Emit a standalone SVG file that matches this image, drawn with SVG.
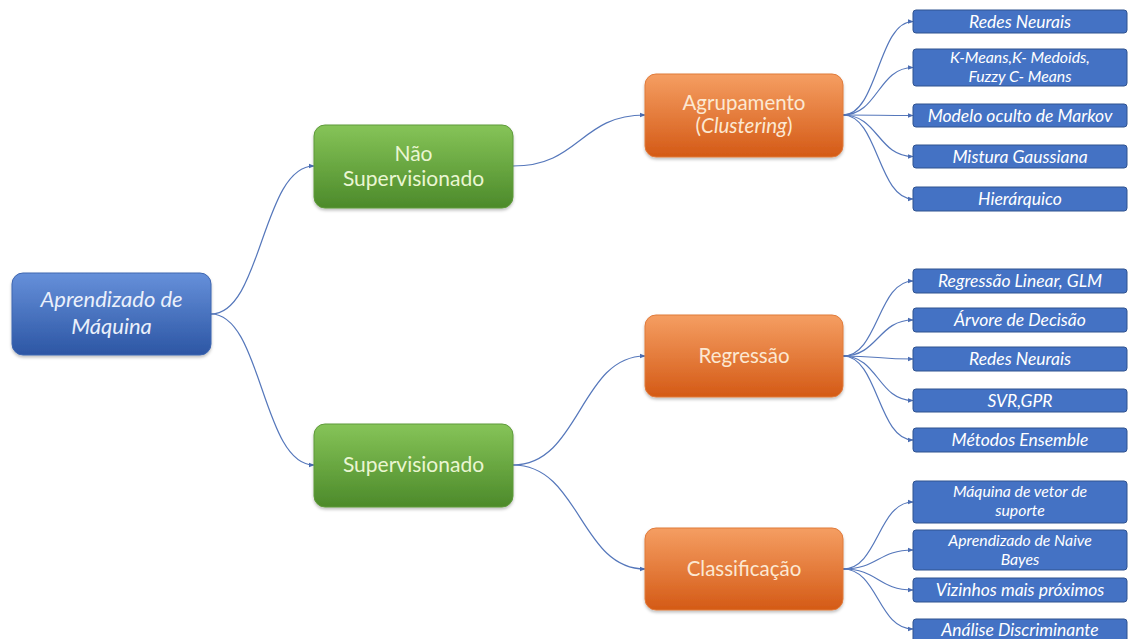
<svg xmlns="http://www.w3.org/2000/svg" width="1128" height="639" viewBox="0 0 1128 639">
  <defs>
    <linearGradient id="gBlue" x1="0" y1="0" x2="0" y2="1">
      <stop offset="0" stop-color="#6690DA"/>
      <stop offset="1" stop-color="#2C56A4"/>
    </linearGradient>
    <linearGradient id="gGreen" x1="0" y1="0" x2="0" y2="1">
      <stop offset="0" stop-color="#86C458"/>
      <stop offset="1" stop-color="#4C8A2A"/>
    </linearGradient>
    <linearGradient id="gOrange" x1="0" y1="0" x2="0" y2="1">
      <stop offset="0" stop-color="#F59E62"/>
      <stop offset="1" stop-color="#D45A16"/>
    </linearGradient>
    <filter id="shadow" x="-10%" y="-10%" width="120%" height="130%">
      <feDropShadow dx="0" dy="2" stdDeviation="1.5" flood-color="#000" flood-opacity="0.25"/>
    </filter>
    <marker id="arrow" viewBox="0 0 10 10" refX="9" refY="5" markerWidth="6" markerHeight="6" orient="auto" markerUnits="userSpaceOnUse">
      <path d="M0,1 L10,5 L0,9 z" fill="#4A6DB3"/>
    </marker>
  </defs>
  <style>
    .bg { fill: #ffffff; }
    .edge { fill: none; stroke: #5577BB; stroke-width: 1.2; marker-end: url(#arrow); }
    .root { fill: url(#gBlue); stroke: #3E66B0; stroke-width: 1; filter: url(#shadow); }
    .green { fill: url(#gGreen); stroke: #5E9A3A; stroke-width: 1; filter: url(#shadow); }
    .orange { fill: url(#gOrange); stroke: #E07A3A; stroke-width: 1; filter: url(#shadow); }
    .leaf { fill: #4472C4; stroke: #2F528F; stroke-width: 1; }
    .tRoot { font-family: Lato, "Liberation Sans", sans-serif; font-style: italic; font-size: 22px; fill: #EAF0FB; text-anchor: middle; }
    .tGreen { font-family: Lato, "Liberation Sans", sans-serif; font-size: 21px; fill: #EAF6D2; text-anchor: middle; }
    .tOrange { font-family: Lato, "Liberation Sans", sans-serif; font-size: 20.5px; fill: #FCE8D2; text-anchor: middle; }
    .tLeaf { font-family: Lato, "Liberation Sans", sans-serif; font-style: italic; font-size: 17.5px; fill: #ffffff; text-anchor: middle; }
    .tLeaf2 { font-family: Lato, "Liberation Sans", sans-serif; font-style: italic; font-size: 15.8px; fill: #ffffff; text-anchor: middle; }
  </style>

  <rect class="bg" x="0" y="0" width="1128" height="639"/>

  <!-- connectors -->
  <g id="connectors">
    <path class="edge" d="M211,314 C262,314 262,166 314,166"/>
    <path class="edge" d="M211,314 C262,314 262,465 314,465"/>
    <path class="edge" d="M513,166 C580,166 580,115 645,115"/>
    <path class="edge" d="M513,465 C580,465 580,356 645,356"/>
    <path class="edge" d="M513,465 C580,465 580,569 645,569"/>

    <path class="edge" d="M843,115 C878,115 878,21.5 913,21.5"/>
    <path class="edge" d="M843,115 C878,115 878,67.5 913,67.5"/>
    <path class="edge" d="M843,115 C878,115 878,115.5 913,115.5"/>
    <path class="edge" d="M843,115 C878,115 878,156.5 913,156.5"/>
    <path class="edge" d="M843,115 C878,115 878,199 913,199"/>

    <path class="edge" d="M843,356 C878,356 878,281 913,281"/>
    <path class="edge" d="M843,356 C878,356 878,320 913,320"/>
    <path class="edge" d="M843,356 C878,356 878,359 913,359"/>
    <path class="edge" d="M843,356 C878,356 878,400.5 913,400.5"/>
    <path class="edge" d="M843,356 C878,356 878,440 913,440"/>

    <path class="edge" d="M843,569 C878,569 878,502 913,502"/>
    <path class="edge" d="M843,569 C878,569 878,550 913,550"/>
    <path class="edge" d="M843,569 C878,569 878,590 913,590"/>
    <path class="edge" d="M843,569 C878,569 878,629 913,629"/>
  </g>

  <!-- main tree -->
  <g id="aprendizado">
    <rect class="root" x="12" y="273" width="199" height="82" rx="11"/>
    <text class="tRoot" x="111.5" y="307">Aprendizado de</text>
    <text class="tRoot" x="111.5" y="334">Máquina</text>
  </g>

  <g id="nao-supervisionado">
    <rect class="green" x="314" y="125" width="199" height="83" rx="11"/>
    <text class="tGreen" x="413.5" y="161">Não</text>
    <text class="tGreen" x="413.5" y="186">Supervisionado</text>
  </g>

  <g id="supervisionado">
    <rect class="green" x="314" y="424" width="199" height="83" rx="11"/>
    <text class="tGreen" x="413.5" y="472">Supervisionado</text>
  </g>

  <g id="agrupamento">
    <rect class="orange" x="645" y="74" width="198" height="83" rx="11"/>
    <text class="tOrange" x="744" y="110">Agrupamento</text>
    <text class="tOrange" x="744" y="133">(<tspan font-style="italic">Clustering</tspan>)</text>
  </g>

  <g id="regressao">
    <rect class="orange" x="645" y="315" width="198" height="82" rx="11"/>
    <text class="tOrange" x="744" y="363">Regressão</text>
  </g>

  <g id="classificacao">
    <rect class="orange" x="645" y="528" width="198" height="82" rx="11"/>
    <text class="tOrange" x="744" y="576">Classificação</text>
  </g>

  <!-- clustering methods -->
  <g id="leaf-redes-neurais-1">
    <rect class="leaf" x="913" y="10" width="214" height="23" rx="3"/>
    <text class="tLeaf" x="1020" y="27.5">Redes Neurais</text>
  </g>
  <g id="leaf-kmeans">
    <rect class="leaf" x="913" y="49" width="214" height="37" rx="3"/>
    <text class="tLeaf2" x="1020" y="63">K-Means,K- Medoids,</text>
    <text class="tLeaf2" x="1020" y="82">Fuzzy C- Means</text>
  </g>
  <g id="leaf-markov">
    <rect class="leaf" x="913" y="104" width="214" height="23" rx="3"/>
    <text class="tLeaf" x="1020" y="121.5">Modelo oculto de Markov</text>
  </g>
  <g id="leaf-gaussiana">
    <rect class="leaf" x="913" y="145" width="214" height="23" rx="3"/>
    <text class="tLeaf" x="1020" y="162.5">Mistura Gaussiana</text>
  </g>
  <g id="leaf-hierarquico">
    <rect class="leaf" x="913" y="187" width="214" height="24" rx="3"/>
    <text class="tLeaf" x="1020" y="205">Hierárquico</text>
  </g>

  <!-- regression methods -->
  <g id="leaf-regressao-linear">
    <rect class="leaf" x="913" y="269" width="214" height="24" rx="3"/>
    <text class="tLeaf" x="1020" y="287">Regressão Linear, GLM</text>
  </g>
  <g id="leaf-arvore">
    <rect class="leaf" x="913" y="308" width="214" height="24" rx="3"/>
    <text class="tLeaf" x="1020" y="326">Árvore de Decisão</text>
  </g>
  <g id="leaf-redes-neurais-2">
    <rect class="leaf" x="913" y="347" width="214" height="24" rx="3"/>
    <text class="tLeaf" x="1020" y="365">Redes Neurais</text>
  </g>
  <g id="leaf-svr">
    <rect class="leaf" x="913" y="389" width="214" height="23" rx="3"/>
    <text class="tLeaf" x="1020" y="406.5">SVR,GPR</text>
  </g>
  <g id="leaf-ensemble">
    <rect class="leaf" x="913" y="428" width="214" height="24" rx="3"/>
    <text class="tLeaf" x="1020" y="446">Métodos Ensemble</text>
  </g>

  <!-- classification methods -->
  <g id="leaf-svm">
    <rect class="leaf" x="913" y="481" width="214" height="42" rx="3"/>
    <text class="tLeaf2" x="1020" y="497">Máquina de vetor de</text>
    <text class="tLeaf2" x="1020" y="516">suporte</text>
  </g>
  <g id="leaf-naive-bayes">
    <rect class="leaf" x="913" y="530" width="214" height="40" rx="3"/>
    <text class="tLeaf2" x="1020" y="546">Aprendizado de Naive</text>
    <text class="tLeaf2" x="1020" y="565">Bayes</text>
  </g>
  <g id="leaf-vizinhos">
    <rect class="leaf" x="913" y="578" width="214" height="24" rx="3"/>
    <text class="tLeaf" x="1020" y="596">Vizinhos mais próximos</text>
  </g>
  <g id="leaf-discriminante">
    <rect class="leaf" x="913" y="619" width="214" height="24" rx="3"/>
    <text class="tLeaf" x="1020" y="636">Análise Discriminante</text>
  </g>
</svg>
